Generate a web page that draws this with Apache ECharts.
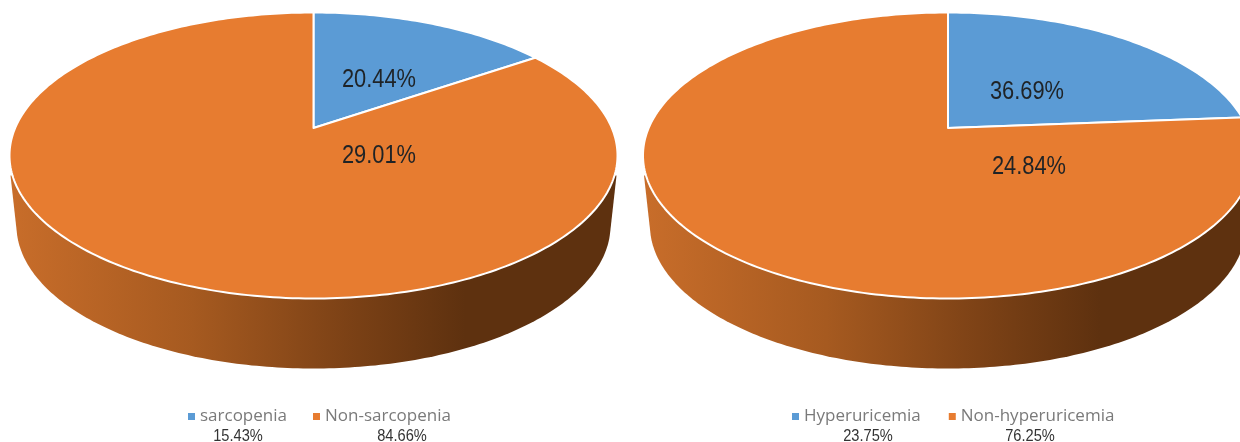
<!DOCTYPE html>
<html>
<head>
<meta charset="utf-8">
<style>html,body{margin:0;padding:0;background:#fff}#chart{width:1240px;height:442px}</style>
<script src="https://cdn.jsdelivr.net/npm/echarts@6/dist/echarts.min.js"></script>
</head>
<body>
<div id="chart"></div>
<script>
// Prevalence shares, one pair per disc
const sarcopeniaNames = ['sarcopenia', 'Non-sarcopenia'];
const sarcopeniaShares = [15.43, 84.66];
const sarcopeniaInnerLabels = ['20.44%', '29.01%'];

const uricemiaNames = ['Hyperuricemia', 'Non-hyperuricemia'];
const uricemiaShares = [23.75, 76.25];
const uricemiaInnerLabels = ['36.69%', '24.84%'];

const sliceColors = ['#5b9bd5', '#e77c30'];

// Disc geometry: the tilted disc is an ellipse whose apex sits above its centre
const discs = [
  { names: sarcopeniaNames, shares: sarcopeniaShares, cx: 313.5, rx: 304,
    inner: sarcopeniaInnerLabels, innerPos: [[379, 80], [379, 156]],
    sharePos: [238, 402], legendLeft: 188, legendGap: 26 },
  { names: uricemiaNames, shares: uricemiaShares, cx: 948, rx: 305,
    inner: uricemiaInnerLabels, innerPos: [[1027, 92], [1029, 167]],
    sharePos: [868, 1030], legendLeft: 792, legendGap: 28 }
];
const CY = 155.5, RY = 143, DEPTH = 70, APEX_SHIFT = 0.192;
const ABERRATION = Math.sqrt((1 - APEX_SHIFT) / (1 + APEX_SHIFT));

function ellipsePoint(d, fraction) {
  const phi = fraction * 2 * Math.PI;
  const theta = 2 * Math.atan2(ABERRATION * Math.sin(phi / 2), Math.cos(phi / 2));
  return [d.cx + d.rx * Math.sin(theta), CY - RY * Math.cos(theta)];
}

function sliceSeries(d, i) {
  const total = d.shares.reduce((a, b) => a + b, 0);
  const before = d.shares.slice(0, i).reduce((a, b) => a + b, 0);
  return {
    type: 'custom',
    name: d.names[i],
    coordinateSystem: 'none',
    z: 3,
    silent: true,
    itemStyle: { color: sliceColors[i] },
    data: [[d.shares[i]]],
    renderItem(params, api) {
      const from = before / total;
      const to = (before + api.value(0)) / total;
      const steps = Math.max(8, Math.ceil((to - from) * 360));
      const points = [[d.cx, CY - APEX_SHIFT * RY]];
      for (let s = 0; s <= steps; s++) {
        points.push(ellipsePoint(d, from + (to - from) * s / steps));
      }
      return {
        type: 'polygon',
        shape: { points },
        style: { fill: sliceColors[i], stroke: '#ffffff', lineWidth: 2, lineJoin: 'round' }
      };
    }
  };
}

// Side wall of the disc, sitting under the slices
function wallSeries(d) {
  return {
    type: 'custom',
    name: 'wall-' + d.names[0],
    coordinateSystem: 'none',
    z: 2,
    silent: true,
    data: [[DEPTH]],
    renderItem(params, api) {
      const depth = api.value(0);
      const wallRx = d.rx - 7;
      const points = [];
      points.push([d.cx - d.rx + 1, CY + 20]);
      for (let a = -87; a <= 87; a += 1) {
        const t = a * Math.PI / 180;
        points.push([d.cx + wallRx * Math.sin(t), CY + depth + RY * Math.cos(t)]);
      }
      points.push([d.cx + d.rx - 1, CY + 20]);
      return {
        type: 'polygon',
        shape: { points },
        style: {
          fill: new echarts.graphic.LinearGradient(0, 0, 1, 0, [
            { offset: 0, color: '#c86d2a' },
            { offset: 0.3, color: '#a65a20' },
            { offset: 0.55, color: '#7d4216' },
            { offset: 0.75, color: '#5e310f' },
            { offset: 1, color: '#5e310f' }
          ])
        }
      };
    }
  };
}

const FONT = '"Liberation Sans", sans-serif';
const texts = [];
discs.forEach(d => {
  d.inner.forEach((label, i) => texts.push({
    type: 'text', z: 10, silent: true,
    x: d.innerPos[i][0], y: d.innerPos[i][1], scaleX: 0.84,
    style: { text: label, x: 0, y: 0, align: 'center', verticalAlign: 'middle',
      font: '26px ' + FONT, fill: '#1f2326' }
  }));
  d.shares.forEach((share, i) => texts.push({
    type: 'text', z: 10, silent: true,
    x: d.sharePos[i], y: 436, scaleX: 0.86,
    style: { text: share.toFixed(2) + '%', x: 0, y: 0, align: 'center', verticalAlign: 'middle',
      font: '17px ' + FONT, fill: '#333' }
  }));
});

const option = {
  animation: false,
  backgroundColor: '#fff',
  legend: discs.map(d => ({
    data: d.names,
    left: d.legendLeft,
    top: 408,
    icon: 'rect',
    itemWidth: 7,
    itemHeight: 7,
    itemGap: d.legendGap,
    padding: 0,
    selectedMode: false,
    textStyle: { color: '#7a7a7a', fontSize: 17, fontFamily: '"Open Sans", sans-serif' }
  })),
  graphic: { elements: texts },
  series: discs.flatMap(d => [wallSeries(d), sliceSeries(d, 0), sliceSeries(d, 1)])
};

echarts.init(document.getElementById('chart'), null, { renderer: 'canvas' }).setOption(option);
</script>
</body>
</html>
